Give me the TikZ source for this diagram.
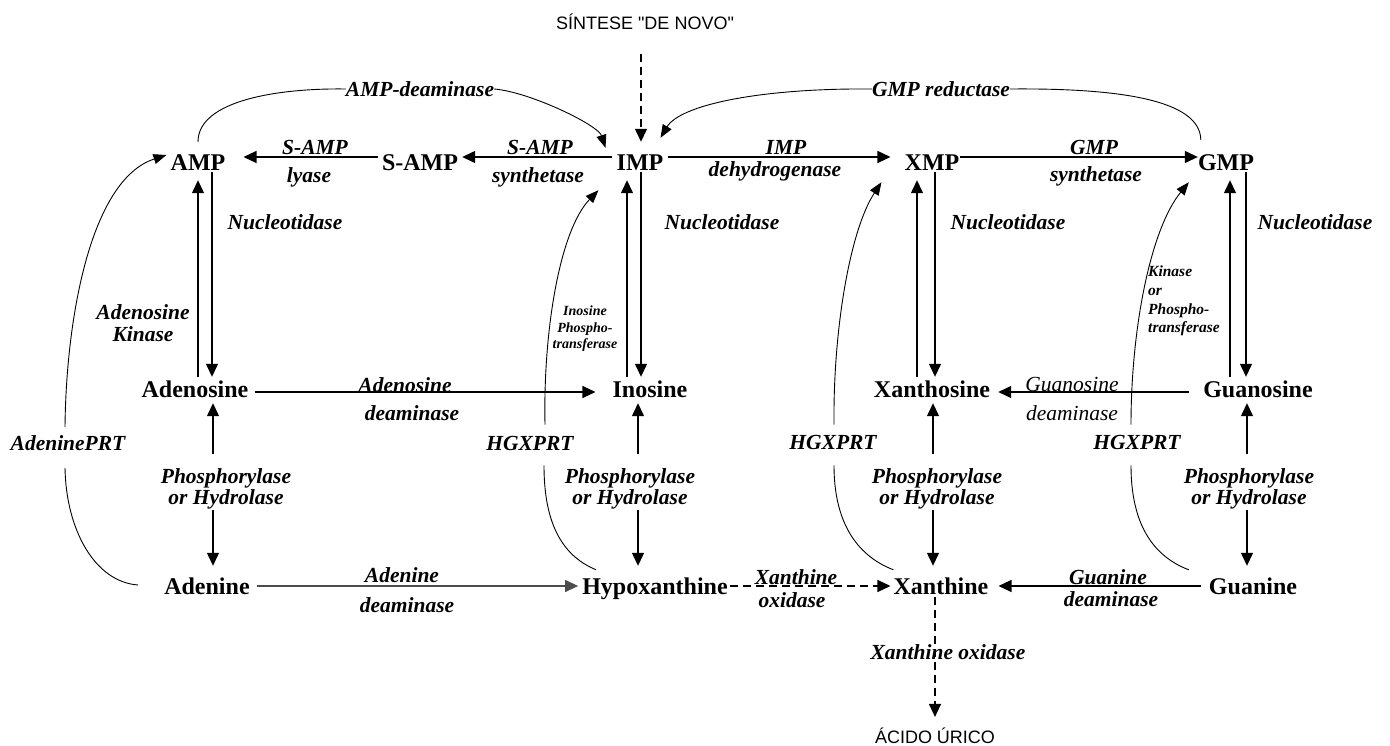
\documentclass[tikz,border=0pt]{standalone}
\usepackage{fontspec}
\setmainfont{Liberation Serif}
\newfontfamily\sansf{Liberation Sans}
\usetikzlibrary{arrows.meta}
\begin{document}
\begin{tikzpicture}[x=1pt,y=-1pt,
  mol/.style={font=\fontsize{24}{26}\selectfont\bfseries, inner xsep=0pt, inner ysep=4.5pt, text height=16pt, text depth=5pt},
  lab/.style={font=\fontsize{21.5}{21.5}\selectfont\bfseries\itshape, inner sep=0pt, align=center},
  labr/.style={font=\fontsize{21.5}{21.5}\selectfont\itshape, inner sep=0pt, align=center},
  small/.style={font=\fontsize{14}{16.5}\selectfont\bfseries\itshape, inner sep=0pt, align=center},
  smallk/.style={font=\fontsize{15.5}{18.7}\selectfont\bfseries\itshape, inner sep=0pt, align=left},
  sans/.style={font=\fontsize{18}{20}\selectfont\sansf, inner sep=0pt},
  arr/.style={line width=1.3pt, -{Triangle[length=13pt,width=12pt]}},
  darr/.style={arr, dash pattern=on 8pt off 5pt},
  curve/.style={line width=0.9pt},
  carr/.style={line width=0.9pt, -{Triangle[length=13pt,width=10pt]}},
]
\useasboundingbox (0,0) rectangle (1390,746);

% molecules
\node[mol] (AMP) at (198,165) {AMP};
\node[mol] (SAMP) at (420,165) {S-AMP};
\node[mol] (IMP) at (640,165) {IMP};
\node[mol] (XMP) at (932,165) {XMP};
\node[mol] (GMP) at (1226,165) {GMP};
\node[mol] (Ado) at (195,392) {Adenosine};
\node[mol] (Ino) at (650,392) {Inosine};
\node[mol] (Xao) at (932,392) {Xanthosine};
\node[mol] (Guo) at (1258,392) {Guanosine};
\node[mol] (Ade) at (207,589) {Adenine};
\node[mol] (Hyp) at (655,589) {Hypoxanthine};
\node[mol] (Xan) at (941,589) {Xanthine};
\node[mol] (Gua) at (1253,589) {Guanine};
\node[sans] (sin) at (645,22) {SÍNTESE "DE NOVO"};
\node[sans] (acu) at (935,736) {ÁCIDO ÚRICO};

% enzyme labels
\node[lab] (lyA) at (315,147) {S-AMP};
\node[lab] (lyB) at (309,177) {lyase};
\node[lab] (syA) at (540,147) {S-AMP};
\node[lab] (syB) at (538,177) {synthetase};
\node[lab] (deA) at (786,147) {IMP};
\node[lab] (deB) at (775,171) {dehydrogenase};
\node[lab] (gsA) at (1094,147) {GMP};
\node[lab] (gsB) at (1096,176) {synthetase};
\node[lab] (amd) at (420,89) {AMP-deaminase};
\node[lab] (gmr) at (941,89) {GMP reductase};
\node[lab] (nu1) at (285,222) {Nucleotidase};
\node[lab] (nu2) at (722,222) {Nucleotidase};
\node[lab] (nu3) at (1008,222) {Nucleotidase};
\node[lab] (nu4) at (1315,222) {Nucleotidase};
\node[lab] (adk) at (143,323) {Adenosine\\Kinase};
\node[small] (ipt) at (585,329) {Inosine\\Phospho-\\transferase};
\node[smallk, anchor=west] (kpt) at (1148,301) {Kinase\\or\\Phospho-\\transferase};
\node[lab] (adaA) at (405,385) {Adenosine};
\node[lab] (adaB) at (412,413) {deaminase};
\node[labr] (gdaA) at (1072,385) {Guanosine};
\node[labr] (gdaB) at (1072,413) {deaminase};
\node[lab] (apr) at (68,443) {AdeninePRT};
\node[lab] (hg1) at (530,443) {HGXPRT};
\node[lab] (hg2) at (833,442) {HGXPRT};
\node[lab] (hg3) at (1137,442) {HGXPRT};
\node[lab] (ph1) at (226,489) {Phosphorylase\\or Hydrolase};
\node[lab] (ph2) at (630,489) {Phosphorylase\\or Hydrolase};
\node[lab] (ph3) at (937,489) {Phosphorylase\\or Hydrolase};
\node[lab] (ph4) at (1249,489) {Phosphorylase\\or Hydrolase};
\node[lab] (adeA) at (402,575) {Adenine};
\node[lab] (adeB) at (407,605) {deaminase};
\node[lab] (xoA) at (796,577) {Xanthine};
\node[lab] (xoB) at (792,600) {oxidase};
\node[lab] (gdA) at (1108,577) {Guanine};
\node[lab] (gdB) at (1111,599) {deaminase};
\node[lab] (xo2) at (948,652) {Xanthine oxidase};

% de novo
\draw[darr] ([xshift=-4pt,yshift=-24pt]sin.south) -- ([xshift=1pt,yshift=8pt]IMP.north);

% row 1 horizontals
\draw[arr] ([xshift=-4pt,yshift=8pt]SAMP.west) -- ([xshift=18pt,yshift=8pt]AMP.east);
\draw[arr] ([xshift=-4pt,yshift=8pt]IMP.west) -- ([xshift=4pt,yshift=8pt]SAMP.east);
\draw[arr] ([xshift=4pt,yshift=8pt]IMP.east) -- ([xshift=-14pt,yshift=8pt]XMP.west);
\draw[arr] ([yshift=8pt]XMP.east) -- ([yshift=8pt]GMP.west);

% row 1 - row 2 verticals
\draw[arr] ([xshift=3pt]Ado.north) -- (AMP.south);
\draw[arr] ([xshift=14pt,yshift=8pt]AMP.south) -- ([xshift=17pt]Ado.north);
\draw[arr] ([xshift=-23pt]Ino.north) -- ([xshift=-13pt]IMP.south);
\draw[arr] ([xshift=1pt,yshift=8pt]IMP.south) -- ([xshift=-9pt]Ino.north);
\draw[arr] ([xshift=-15pt]Xao.north) -- ([xshift=-15pt]XMP.south);
\draw[arr] ([xshift=3pt,yshift=8pt]XMP.south) -- ([xshift=3pt]Xao.north);
\draw[arr] ([xshift=-28pt]Guo.north) -- ([xshift=4pt]GMP.south);
\draw[arr] ([xshift=20pt,yshift=8pt]GMP.south) -- ([xshift=-12pt]Guo.north);

% row 2 horizontals
\draw[arr] ([xshift=6pt]Ado.east) -- ([xshift=-17pt]Ino.west);
\draw[arr] ([xshift=-14pt]Guo.west) -- ([xshift=8pt]Xao.east);

% row 2 - row 3 verticals
\draw[arr] ([xshift=-13pt,yshift=14pt]ph1.north) -- ([xshift=18pt,yshift=4pt]Ado.south);
\draw[arr] ([xshift=-13pt]ph1.south) -- ([xshift=6pt,yshift=8pt]Ade.north);
\draw[arr] ([xshift=8pt,yshift=14pt]ph2.north) -- ([xshift=-12pt,yshift=4pt]Ino.south);
\draw[arr] ([xshift=8pt]ph2.south) -- ([xshift=-17pt,yshift=8pt]Hyp.north);
\draw[arr] ([xshift=-4pt,yshift=14pt]ph3.north) -- ([xshift=1pt,yshift=4pt]Xao.south);
\draw[arr] ([xshift=-4pt]ph3.south) -- ([xshift=-8pt,yshift=8pt]Xan.north);
\draw[arr] ([xshift=-2pt,yshift=14pt]ph4.north) -- ([xshift=-11pt,yshift=4pt]Guo.south);
\draw[arr] ([xshift=-2pt]ph4.south) -- ([xshift=-6pt,yshift=8pt]Gua.north);

% row 3 horizontals
\draw[arr, black!70] ([xshift=7pt,yshift=3pt]Ade.east) -- ([xshift=-4pt,yshift=3pt]Hyp.west);
\draw[darr] ([xshift=2pt,yshift=3pt]Hyp.east) -- ([xshift=-3pt,yshift=3pt]Xan.west);
\draw[arr] ([xshift=-8pt,yshift=3pt]Gua.west) -- ([xshift=10pt,yshift=3pt]Xan.east);
\draw[darr] ([xshift=-6pt,yshift=7pt]Xan.south) -- ([yshift=11pt]acu.north);

% top arcs
\draw[curve] ([yshift=8pt]AMP.north) .. controls (198,100) and (280,88) .. (amd.west);
\draw[carr] (amd.east) .. controls (530,92) and (598,125) .. ([xshift=-11pt,yshift=2pt]IMP.north west);
\draw[curve] ([xshift=3pt,yshift=10pt]GMP.north west) .. controls (1200,100) and (1120,88) .. (gmr.east);
\draw[carr] (gmr.west) .. controls (760,88) and (680,105) .. ([xshift=-3pt,yshift=12pt]IMP.north east);

% salvage curves
\draw[curve] ([xshift=-26pt,yshift=4pt]Ade.west) .. controls (95,582) and (66,530) .. ([xshift=-3pt,yshift=-17pt]apr.south);
\draw[carr] ([xshift=-3pt,yshift=8pt]apr.north) .. controls (66,320) and (90,180) .. ([xshift=-4pt,yshift=10pt]AMP.west);

\draw[curve] ([xshift=14pt,yshift=4pt]Hyp.north west) .. controls (560,555) and (544,520) .. ([xshift=14pt,yshift=-15pt]hg1.south);
\draw[carr] ([xshift=15pt,yshift=11pt]hg1.north) .. controls (543,330) and (560,230) .. ([xshift=-18pt,yshift=-10pt]IMP.south west);

\draw[curve] ([yshift=4pt]Xan.north west) .. controls (855,555) and (834,520) .. ([xshift=1pt,yshift=-16pt]hg2.south);
\draw[carr] ([xshift=1pt,yshift=10pt]hg2.north) .. controls (833,330) and (850,230) .. ([xshift=-23pt,yshift=-2pt]XMP.south west);

\draw[curve] ([xshift=-20pt,yshift=4pt]Gua.north west) .. controls (1150,555) and (1131,520) .. ([xshift=-6pt,yshift=-16pt]hg3.south);
\draw[carr] ([xshift=-6pt,yshift=10pt]hg3.north) .. controls (1131,330) and (1150,230) .. ([xshift=-9pt,yshift=-2pt]GMP.south west);
\end{tikzpicture}
\end{document}
